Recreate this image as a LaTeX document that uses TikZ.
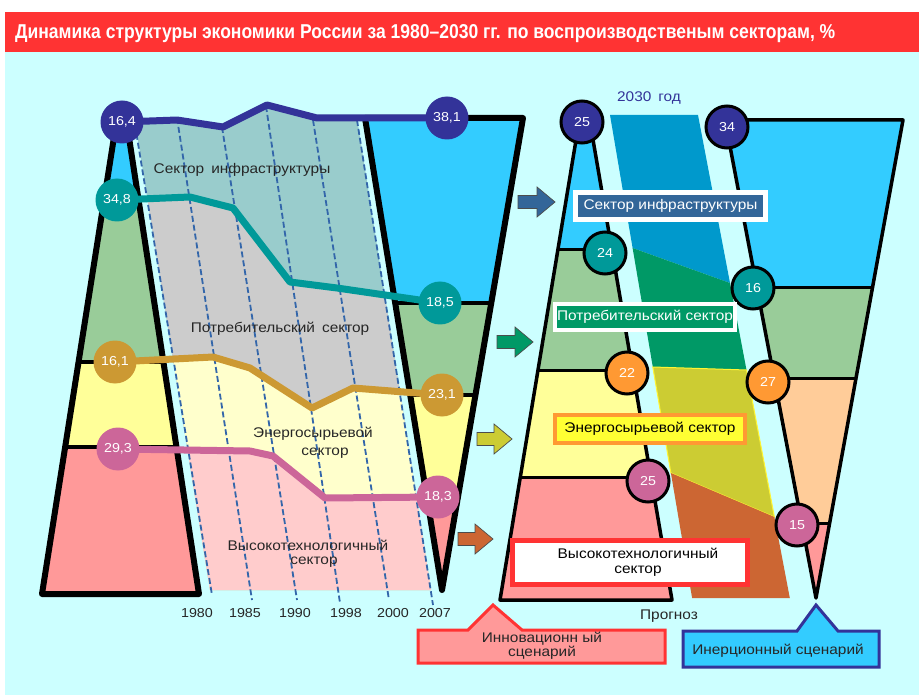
\documentclass[tikz,border=0pt]{standalone}
\usepackage{fontspec}
\setmainfont[FakeStretch=1.1]{Liberation Sans}
\newfontfamily\titlefont{Liberation Sans}
\definecolor{bgcyan}{HTML}{CCFFFF}
\definecolor{titlered}{HTML}{FF3333}
\definecolor{cindigo}{HTML}{333399}
\definecolor{cteal}{HTML}{009999}
\definecolor{cochre}{HTML}{CC9933}
\definecolor{cmagenta}{HTML}{CC6699}
\definecolor{bandtop}{HTML}{99CCCC}
\definecolor{bandgrey}{HTML}{CCCCCC}
\definecolor{bandyellow}{HTML}{FFFFCC}
\definecolor{bandpink}{HTML}{FFCCCC}
\definecolor{lblue}{HTML}{33CCFF}
\definecolor{lgreen}{HTML}{99CC99}
\definecolor{lyellow}{HTML}{FFFF99}
\definecolor{lpink}{HTML}{FF9999}
\definecolor{lpeach}{HTML}{FFCC99}
\definecolor{corange}{HTML}{FF9933}
\definecolor{rblue}{HTML}{0099CC}
\definecolor{rgreen}{HTML}{009966}
\definecolor{rolive}{HTML}{CCCC33}
\definecolor{rbrown}{HTML}{CC6633}
\definecolor{boxblue}{HTML}{336699}
\definecolor{dashblue}{HTML}{3366AA}
\definecolor{boxyellow}{HTML}{FFFF33}
\newcommand\blockarrow[4]{%
  \filldraw[fill=#1, draw=black!70, line width=0.7pt, line join=miter]
  (#2,#4-6.5) -- (#3-18,#4-6.5) -- (#3-18,#4-15) -- (#3,#4) --
  (#3-18,#4+15) -- (#3-18,#4+6.5) -- (#2,#4+6.5) -- cycle;}
\tikzset{
  lbl/.style={font=\fontsize{14}{16}\selectfont, text=black!85, inner sep=0pt, align=center},
  circnum/.style={circle, inner sep=0pt, minimum size=43pt, text=white, font=\fontsize{13}{13}\selectfont},
  circnumb/.style={circnum, draw=black, line width=3pt, minimum size=42pt},
  serie/.style={line width=7pt, line join=round},
  yearline/.style={draw=dashblue, line width=1.8pt, dash pattern=on 6pt off 3pt},
  yr/.style={font=\fontsize{13}{13}\selectfont, inner sep=0pt, text=black!85},
  heavy/.style={line width=6pt, line join=round},
  lighter/.style={line width=3.5pt, line join=round},
}
\begin{document}
\begin{tikzpicture}[x=1pt,y=-1pt]
\useasboundingbox (0,0) rectangle (919,695);
% background
\fill[white] (0,0) rectangle (919,695);
\fill[bgcyan] (5,52) rectangle (919,695);
\fill[titlered] (5,12) rectangle (919,52);
\node[anchor=base west, inner sep=0pt, text=white] (title) at (15,39)
  {\resizebox{820pt}{14pt}{\titlefont\bfseries Динамика структуры экономики России за 1980–2030 гг. по воспроизводственым секторам, \%}};

% ---------- left: 1980 trapezoid ----------
\begin{scope}
  \clip (117,118) -- (126,118) -- (199,594) -- (42,594) -- cycle;
  \fill[lblue] (0,0) rectangle (919,695);
  \fill[lgreen] (0,200) rectangle (300,700);
  \fill[lyellow] (0,362) rectangle (300,700);
  \fill[lpink] (0,447) rectangle (300,700);
  \draw[line width=4.5pt] (0,200) -- (300,200) (0,362) -- (300,362) (0,447) -- (300,447);
\end{scope}
\draw[heavy] (117,118) -- (126,118) -- (199,594) -- (42,594) -- cycle;

% ---------- left: history band ----------
\begin{scope}
  \clip (135,121.5) -- (177,120) -- (223,127) -- (267,105) -- (317,118) -- (357,118) -- (431,590) -- (210,590) -- cycle;
  \fill[bandtop] (0,0) rectangle (919,695);
  \fill[bandgrey] (0,200) -- (117,200) -- (190,197) -- (233,208) -- (290,282) -- (337,288) -- (440,302) -- (919,302) -- (919,695) -- (0,695) -- cycle;
  \fill[bandyellow] (0,362) -- (115,362) -- (213,357) -- (250,368) -- (312,408) -- (353,388) -- (442,395) -- (919,395) -- (919,695) -- (0,695) -- cycle;
  \fill[bandpink] (0,449) -- (118,449) -- (250,451) -- (273,456) -- (325,498) -- (438,497) -- (919,497) -- (919,695) -- (0,695) -- cycle;
\end{scope}
% year lines
\coordinate (t1980) at (135,125); \coordinate (b1980) at (212,595);
\coordinate (t1985) at (177,118); \coordinate (b1985) at (252,600);
\coordinate (t1990) at (222,127); \coordinate (b1990) at (297,600);
\coordinate (t1998) at (266,106); \coordinate (b1998) at (340,603);
\coordinate (t2000) at (313,120); \coordinate (b2000) at (389,600);
\coordinate (t2007) at (357,120); \coordinate (b2007) at (433,605);
\foreach \yy in {1980,1985,1990,1998,2000,2007}{\draw[yearline] (t\yy) -- (b\yy);}
\node[yr] (l1980) at (197,613) {1980};
\node[yr] (l1985) at (245,613) {1985};
\node[yr] (l1990) at (295,613) {1990};
\node[yr] (l1998) at (346,613) {1998};
\node[yr] (l2000) at (393,613) {2000};
\node[yr] (l2007) at (435,613) {2007};

% ---------- left: 2007 funnel ----------
\begin{scope}
  \clip (365,118) -- (523,118) -- (442,590) -- cycle;
  \fill[lblue] (0,0) rectangle (919,695);
  \fill[lgreen] (300,303) rectangle (600,700);
  \fill[lyellow] (300,395) rectangle (600,700);
  \fill[lpink] (300,497) rectangle (600,700);
  \draw[line width=4.5pt] (300,303) -- (600,303) (300,395) -- (600,395) (300,497) -- (600,497);
\end{scope}
\draw[heavy] (365,118) -- (523,118) -- (442,590) -- cycle;

% series lines
\coordinate (p164) at (122,122); \coordinate (p381) at (447,118);
\coordinate (p348) at (117,200); \coordinate (p185) at (440,303);
\coordinate (p161) at (115,362); \coordinate (p231) at (442,395);
\coordinate (p293) at (118,449); \coordinate (p183) at (438,497);
\draw[serie, cindigo] (p164) -- (177,120) -- (223,127) -- (267,105) -- (317,118) -- (p381);
\draw[serie, cteal] (p348) -- (190,197) -- (233,208) -- (290,282) -- (337,288) -- (p185);
\draw[serie, cochre] (p161) -- (213,357) -- (250,368) -- (312,408) -- (353,388) -- (p231);
\draw[serie, cmagenta] (p293) -- (250,451) -- (273,456) -- (325,498) -- (p183);
\node[circnum, fill=cindigo] (n164) at (p164) {16,4};
\node[circnum, fill=cteal] (n348) at (p348) {34,8};
\node[circnum, fill=cochre] (n161) at (p161) {16,1};
\node[circnum, fill=cmagenta] (n293) at (p293) {29,3};
\node[circnum, fill=cindigo] (n381) at (p381) {38,1};
\node[circnum, fill=cteal] (n185) at (p185) {18,5};
\node[circnum, fill=cochre] (n231) at (p231) {23,1};
\node[circnum, fill=cmagenta] (n183) at (p183) {18,3};

% band labels
\node[lbl] (linfra) at (242,170) {Сектор\hspace{0.5em}инфраструктуры};
\node[lbl] (lcons) at (280,329) {Потребительский\hspace{0.5em}сектор};
\node[lbl] (lenergy) at (313,434) {Энергосырьевой};
\node[lbl] (lenergy2) at (325,453) {сектор};
\node[lbl] (lhigh) at (308,545) {Высокотехнологичный};
\node[lbl] (lhigh2) at (314,562) {сектор};

% arrows
\blockarrow{boxblue}{518}{555}{202}
\blockarrow{rgreen}{497}{533}{342}
\blockarrow{rolive}{477}{512}{439}
\blockarrow{rbrown}{458}{493}{539}

% ---------- right: transition band ----------
\fill[rblue] (610,115) -- (698,115) -- (730,283) -- (632.6,248) -- cycle;
\fill[rgreen] (632.6,248) -- (730,283) -- (746.5,370) -- (652.8,367) -- cycle;
\filldraw[fill=rolive, draw=yellow!80!white, line width=1pt] (652.8,367) -- (746.5,370) -- (774.4,517) -- (670.9,473) -- cycle;
\fill[rbrown] (670.9,473) -- (774.4,517) -- (789.8,598) -- (692.1,598) -- cycle;

% ---------- right: innovation trapezoid ----------
\begin{scope}
  \clip (578,128) -- (591,128) -- (672,600) -- (500,600) -- cycle;
  \fill[lblue] (0,0) rectangle (919,695);
  \fill[lgreen] (480,250) rectangle (700,700);
  \fill[lyellow] (480,370) rectangle (700,700);
  \fill[lpink] (480,477) rectangle (700,700);
  \draw[line width=3pt] (480,250) -- (700,250) (480,370) -- (700,370) (480,477) -- (700,477);
\end{scope}
\draw[lighter] (578,128) -- (591,128) -- (672,600) -- (500,600) -- cycle;

% ---------- right: inertial trapezoid ----------
\begin{scope}
  \clip (725,120) -- (903,120) -- (816,598) -- cycle;
  \fill[lblue] (0,0) rectangle (919,695);
  \fill[lgreen] (700,288) rectangle (919,700);
  \fill[lpeach] (700,378) rectangle (919,700);
  \fill[lpink] (700,523) rectangle (919,700);
  \draw[line width=3pt] (700,288) -- (919,288) (700,378) -- (919,378) (700,523) -- (919,523);
\end{scope}
\draw[lighter] (725,120) -- (903,120) -- (816,598) -- cycle;

% right circles
\node[circnumb, fill=cindigo] (i25a) at (582,122) {25};
\node[circnumb, fill=cteal] (i24) at (605,253) {24};
\node[circnumb, fill=corange] (i22) at (627,373) {22};
\node[circnumb, fill=cmagenta] (i25b) at (648,481) {25};
\node[circnumb, fill=cindigo] (r34) at (727,127) {34};
\node[circnumb, fill=cteal] (r16) at (753,288) {16};
\node[circnumb, fill=corange] (r27) at (768,382) {27};
\node[circnumb, fill=cmagenta] (r15) at (797,525) {15};

% boxes
\node[draw=white, line width=5pt, fill=boxblue, text=white, minimum width=190pt, minimum height=27pt, inner sep=0pt, font=\fontsize{14}{16}\selectfont] (binfra) at (670.5,206) {Сектор инфраструктуры};
\node[draw=white, line width=4pt, fill=rgreen, text=white, minimum width=180pt, minimum height=26pt, inner sep=0pt, font=\fontsize{14}{16}\selectfont] (bcons) at (645,317) {Потребительский сектор};
\node[draw=corange, line width=4pt, fill=boxyellow, text=black, minimum width=190pt, minimum height=28pt, inner sep=0pt, font=\fontsize{14}{16}\selectfont] (benergy) at (650,429) {Энергосырьевой сектор};
\node[draw=titlered, line width=5pt, fill=white, minimum width=235pt, minimum height=44pt, inner sep=0pt] (bhigh) at (630,562.5) {};
\node[lbl, text=black, font=\fontsize{14}{15}\selectfont] (bhight) at (638,562.5) {Высокотехнологичный\\сектор};

\node[lbl, text=cindigo] (y2030) at (649,98) {2030\hspace{0.5em}год};
\node[lbl] (prog) at (669,616) {Прогноз};

% scenario callouts
\filldraw[fill=lpink, draw=titlered, line width=3pt, line join=miter]
  (418,630) -- (468,630) -- (493,605) -- (522,630) -- (665,630) -- (665,663) -- (418,663) -- cycle;
\node[lbl, font=\fontsize{14}{12}\selectfont] (innov) at (542,646) {Инновационн ый\\сценарий};
\filldraw[fill=lblue, draw=cindigo, line width=3pt, line join=miter]
  (683,631) -- (797,631) -- (816,605) -- (838,631) -- (879,631) -- (879,667) -- (683,667) -- cycle;
\node[lbl] (inert) at (778,651) {Инерционный сценарий};
\end{tikzpicture}
\end{document}
